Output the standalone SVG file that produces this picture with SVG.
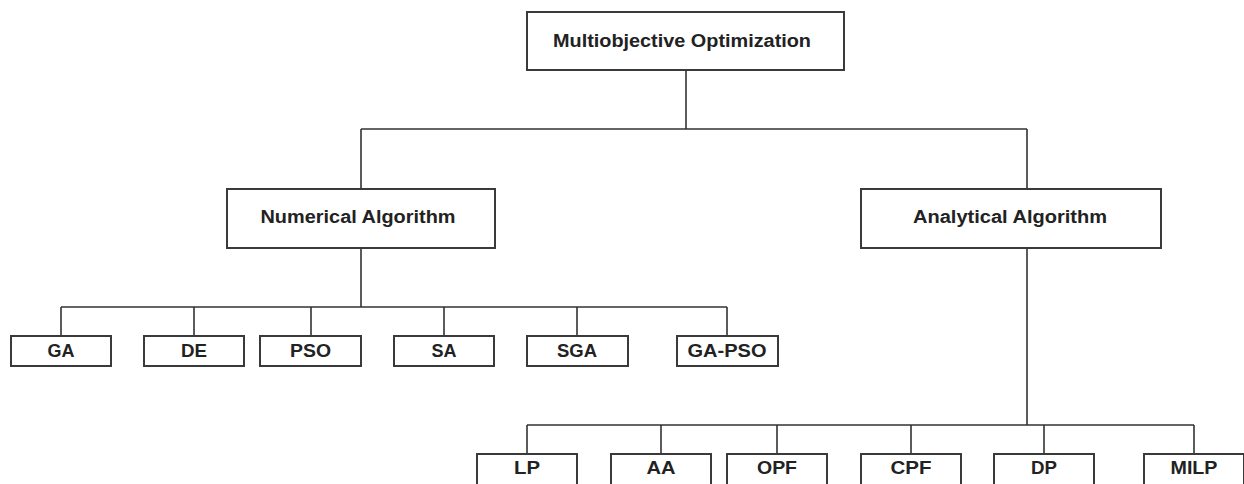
<svg xmlns="http://www.w3.org/2000/svg" width="1244" height="484" viewBox="0 0 1244 484">
<style>
.box{fill:#fff;stroke:#3a3a3a;stroke-width:2}
.lbl{font-family:"Liberation Sans",Arial,sans-serif;font-weight:bold;font-size:18px;fill:#222;text-anchor:middle}
.conn{fill:none;stroke:#333;stroke-width:1.6}
</style>
<rect width="1244" height="484" fill="#fff"/>
<g id="connectors" class="conn">
<path d="M686 70V129M361 129H1027M361 129V189M1027 129V189"/>
<path d="M361 248V307M61 307H727M61 307V336M194 307V336M311 307V336M444 307V336M577 307V336M727 307V336"/>
<path d="M1027 248V425M527 425H1194M527 425V454M661 425V454M777 425V454M911 425V454M1044 425V454M1194 425V454"/>
</g>
<g id="n-root"><rect class="box" x="527" y="12" width="317" height="58"/><text class="lbl" x="682" y="47" textLength="258" lengthAdjust="spacingAndGlyphs">Multiobjective Optimization</text></g>
<g id="n-numerical"><rect class="box" x="227" y="189" width="268" height="59"/><text class="lbl" x="358" y="223" textLength="195" lengthAdjust="spacingAndGlyphs">Numerical Algorithm</text></g>
<g id="n-analytical"><rect class="box" x="861" y="189" width="300" height="59"/><text class="lbl" x="1010" y="223" textLength="194" lengthAdjust="spacingAndGlyphs">Analytical Algorithm</text></g>
<g id="n-ga"><rect class="box" x="11" y="336" width="100" height="30"/><text class="lbl" x="61" y="357" textLength="27" lengthAdjust="spacingAndGlyphs">GA</text></g>
<g id="n-de"><rect class="box" x="144" y="336" width="100" height="30"/><text class="lbl" x="194" y="357" textLength="26" lengthAdjust="spacingAndGlyphs">DE</text></g>
<g id="n-pso"><rect class="box" x="260" y="336" width="101" height="30"/><text class="lbl" x="310.5" y="357" textLength="41" lengthAdjust="spacingAndGlyphs">PSO</text></g>
<g id="n-sa"><rect class="box" x="394" y="336" width="100" height="30"/><text class="lbl" x="444" y="357" textLength="25" lengthAdjust="spacingAndGlyphs">SA</text></g>
<g id="n-sga"><rect class="box" x="527" y="336" width="101" height="30"/><text class="lbl" x="577" y="357" textLength="40" lengthAdjust="spacingAndGlyphs">SGA</text></g>
<g id="n-gapso"><rect class="box" x="677" y="336" width="101" height="30"/><text class="lbl" x="727" y="357" textLength="79" lengthAdjust="spacingAndGlyphs">GA-PSO</text></g>
<g id="n-lp"><rect class="box" x="477" y="454" width="100" height="34"/><text class="lbl" x="527" y="474" textLength="26" lengthAdjust="spacingAndGlyphs">LP</text></g>
<g id="n-aa"><rect class="box" x="611" y="454" width="100" height="34"/><text class="lbl" x="661" y="474" textLength="29" lengthAdjust="spacingAndGlyphs">AA</text></g>
<g id="n-opf"><rect class="box" x="727" y="454" width="100" height="34"/><text class="lbl" x="777" y="474" textLength="40" lengthAdjust="spacingAndGlyphs">OPF</text></g>
<g id="n-cpf"><rect class="box" x="861" y="454" width="100" height="34"/><text class="lbl" x="911" y="474" textLength="41" lengthAdjust="spacingAndGlyphs">CPF</text></g>
<g id="n-dp"><rect class="box" x="994" y="454" width="100" height="34"/><text class="lbl" x="1044" y="474" textLength="26" lengthAdjust="spacingAndGlyphs">DP</text></g>
<g id="n-milp"><rect class="box" x="1144" y="454" width="100" height="34"/><text class="lbl" x="1194" y="474" textLength="47" lengthAdjust="spacingAndGlyphs">MILP</text></g>
</svg>
